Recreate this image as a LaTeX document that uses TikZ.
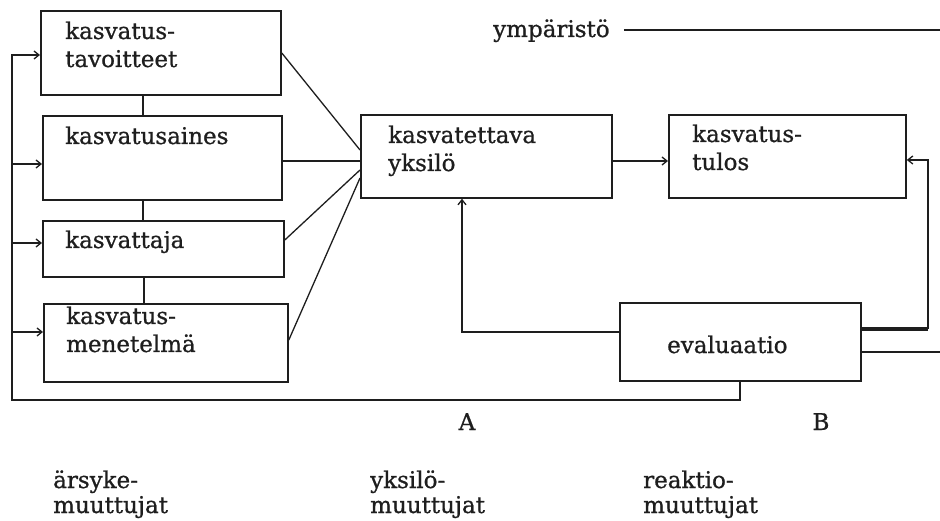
\documentclass[tikz,border=0pt]{standalone}
\usepackage{fontspec}
\setmainfont{DejaVu Serif}[FakeBold=0.8]
\usetikzlibrary{arrows.meta}
\definecolor{ink}{RGB}{30,30,30}
\begin{document}
\begin{tikzpicture}[x=1pt,y=-1pt,
  box/.style={draw=ink,line width=1.8pt,anchor=north west,inner sep=0pt},
  txt/.style={anchor=base west,inner sep=0pt,font=\fontsize{23}{28}\selectfont,text=ink,align=left},
  foot/.style={anchor=base west,inner sep=0pt,font=\fontsize{23}{25}\selectfont,text=ink,align=left},
  link/.style={draw=ink,line width=1.3pt},
  tip/.style={-{Straight Barb[length=5pt,width=8pt,line width=1.3pt]}}]
\useasboundingbox[fill=white] (0,0) rectangle (940,521);

% boxes
\node[box,minimum width=240pt,minimum height=84pt] (tav) at (40,10) {};
\node[box,minimum width=239pt,minimum height=84pt] (ain) at (42,115) {};
\node[box,minimum width=241pt,minimum height=56pt] (kva) at (42,220) {};
\node[box,minimum width=244pt,minimum height=78pt] (men) at (43,303) {};
\node[box,minimum width=251pt,minimum height=83pt] (yks) at (360,114) {};
\node[box,minimum width=237pt,minimum height=83pt] (tul) at (668,114) {};
\node[box,minimum width=241pt,minimum height=78pt] (eva) at (619,302) {};

% box texts (base anchor sits on the last line)
\node[txt] (tavT) at (65,67) {kasvatus-\\tavoitteet};
\node[txt] (ainT) at (65,144) {kasvatusaines};
\node[txt] (kvaT) at (65,248) {kasvattaja};
\node[txt] (menT) at (66,352) {kasvatus-\\menetelmä};
\node[txt] (yksT) at (388,171) {kasvatettava\\yksilö};
\node[txt] (tulT) at (692,170) {kasvatus-\\tulos};
\node[txt] (evaT) at (667,353) {evaluaatio};
\node[txt] (ymp) at (493,37) {ympäristö};

% letters and column captions
\node[txt,anchor=base] (A) at (467,430) {A};
\node[txt,anchor=base] (B) at (821,430) {B};
\node[foot] (ars) at (53,513) {ärsyke-\\muuttujat};
\node[foot] (yms) at (370,513) {yksilö-\\muuttujat};
\node[foot] (rea) at (643,513) {reaktio-\\muuttujat};

% chain of left boxes
\draw[link] (tav.south -| 143,0) -- (ain.north -| 143,0);
\draw[link] (ain.south -| 143,0) -- (kva.north -| 143,0);
\draw[link] (kva.south -| 144,0) -- (men.north -| 144,0);

% feedback loop from evaluation back to the stimulus boxes
\coordinate (corner) at (12,400);
\draw[link,tip] (eva.south -| 740,0) |- (corner) |- (tav.west |- 0,55);
\draw[link,tip] (corner |- 0,164) -- (ain.west |- 0,164);
\draw[link,tip] (corner |- 0,243) -- (kva.west |- 0,243);
\draw[link,tip] (corner |- 0,332) -- (men.west |- 0,332);

% stimulus boxes converge on the individual
\draw[link] (tav.east |- 0,53) -- (yks.west |- 0,150);
\draw[link] (ain.east |- 0,161) -- (yks.west |- 0,161);
\draw[link] (kva.east |- 0,240) -- (yks.west |- 0,170);
\draw[link] (men.east |- 0,340) -- (yks.west |- 0,178);

% individual to result
\draw[link,tip] (yks.east |- 0,161) -- (tul.west |- 0,161);

% environment line
\coordinate (envEnd) at (940,30);
\draw[link] (ymp.east |- 0,30) ++(14,0) -- (envEnd);

% evaluation to result
\coordinate (rturn) at (928,329);
\draw[link,tip] (rturn) |- (tul.east |- 0,160);
\draw[draw=ink,line width=3.5pt] (eva.east |- 0,329) -- (rturn);
\coordinate (outEnd) at (940,352);
\draw[link] (eva.east |- 0,352) -- (outEnd);

% evaluation back to the individual
\draw[link,tip] (eva.west |- 0,332) -| (yks.south -| 462,0);
\end{tikzpicture}
\end{document}
